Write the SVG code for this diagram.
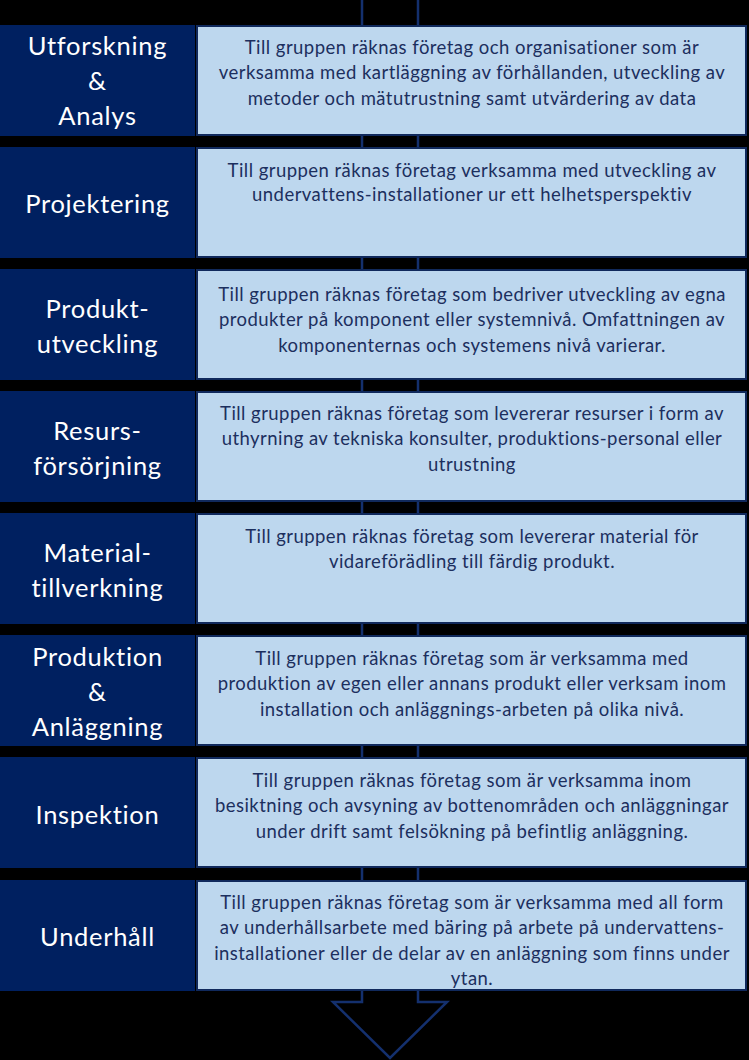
<svg xmlns="http://www.w3.org/2000/svg" width="749" height="1060" viewBox="0 0 749 1060">
<style>
.bg{fill:#000}
.lbox{fill:#002060}
.rbox{fill:#BDD7EE;stroke:#10295C;stroke-width:2}
.lt{font-family:Lato,"Open Sans","Liberation Sans",sans-serif;font-size:25.5px;letter-spacing:0.7px;fill:#fff;text-anchor:middle}
.rt{font-family:Lato,"Open Sans","Liberation Sans",sans-serif;font-size:18.5px;letter-spacing:0.45px;fill:#1C2F5E;text-anchor:middle}
.arrow{fill:#000;stroke:#14306E;stroke-width:2.5}
</style>
<rect class="bg" x="0" y="0" width="749" height="1060"/>
<g id="connectors">
<polygon class="arrow" points="362,-5 418,-5 418,1002 447,1002 390,1058 333,1002 362,1002"/>
</g>
<g id="row1">
<rect class="lbox" x="0" y="25" width="195" height="111"/>
<rect class="rbox" x="197" y="26" width="549" height="109"/>
<text class="lt" x="97.5" y="55">Utforskning</text>
<text class="lt" x="97.5" y="90">&amp;</text>
<text class="lt" x="97.5" y="125">Analys</text>
<text class="rt" x="472" y="53.5">Till gruppen räknas företag och organisationer som är</text>
<text class="rt" x="472" y="79">verksamma med kartläggning av förhållanden, utveckling av</text>
<text class="rt" x="472" y="104.5">metoder och mätutrustning samt utvärdering av data</text>
</g>
<g id="row2">
<rect class="lbox" x="0" y="147" width="195" height="111"/>
<rect class="rbox" x="197" y="148" width="549" height="109"/>
<text class="lt" x="97.5" y="213">Projektering</text>
<text class="rt" x="472" y="176.5">Till gruppen räknas företag verksamma med utveckling av</text>
<text class="rt" x="472" y="201">undervattens-installationer ur ett helhetsperspektiv</text>
</g>
<g id="row3">
<rect class="lbox" x="0" y="269" width="195" height="111"/>
<rect class="rbox" x="197" y="270" width="549" height="109"/>
<text class="lt" x="97.5" y="318">Produkt-</text>
<text class="lt" x="97.5" y="353">utveckling</text>
<text class="rt" x="472" y="300.5">Till gruppen räknas företag som bedriver utveckling av egna</text>
<text class="rt" x="472" y="326">produkter på komponent eller systemnivå. Omfattningen av</text>
<text class="rt" x="472" y="351.5">komponenternas och systemens nivå varierar.</text>
</g>
<g id="row4">
<rect class="lbox" x="0" y="391" width="195" height="111"/>
<rect class="rbox" x="197" y="392" width="549" height="109"/>
<text class="lt" x="97.5" y="440">Resurs-</text>
<text class="lt" x="97.5" y="475">försörjning</text>
<text class="rt" x="472" y="419.5">Till gruppen räknas företag som levererar resurser i form av</text>
<text class="rt" x="472" y="445">uthyrning av tekniska konsulter, produktions-personal eller</text>
<text class="rt" x="472" y="470.5">utrustning</text>
</g>
<g id="row5">
<rect class="lbox" x="0" y="513" width="195" height="111"/>
<rect class="rbox" x="197" y="514" width="549" height="109"/>
<text class="lt" x="97.5" y="562">Material-</text>
<text class="lt" x="97.5" y="597">tillverkning</text>
<text class="rt" x="472" y="542.5">Till gruppen räknas företag som levererar material för</text>
<text class="rt" x="472" y="568">vidareförädling till färdig produkt.</text>
</g>
<g id="row6">
<rect class="lbox" x="0" y="635" width="195" height="111"/>
<rect class="rbox" x="197" y="636" width="549" height="109"/>
<text class="lt" x="97.5" y="666">Produktion</text>
<text class="lt" x="97.5" y="701">&amp;</text>
<text class="lt" x="97.5" y="736">Anläggning</text>
<text class="rt" x="472" y="664.5">Till gruppen räknas företag som är verksamma med</text>
<text class="rt" x="472" y="690">produktion av egen eller annans produkt eller verksam inom</text>
<text class="rt" x="472" y="715.5">installation och anläggnings-arbeten på olika nivå.</text>
</g>
<g id="row7">
<rect class="lbox" x="0" y="757" width="195" height="111"/>
<rect class="rbox" x="197" y="758" width="549" height="109"/>
<text class="lt" x="97.5" y="824">Inspektion</text>
<text class="rt" x="472" y="786.5">Till gruppen räknas företag som är verksamma inom</text>
<text class="rt" x="472" y="812">besiktning och avsyning av bottenområden och anläggningar</text>
<text class="rt" x="472" y="837.5">under drift samt felsökning på befintlig anläggning.</text>
</g>
<g id="row8">
<rect class="lbox" x="0" y="880" width="195" height="111"/>
<rect class="rbox" x="197" y="881" width="549" height="109"/>
<text class="lt" x="97.5" y="946">Underhåll</text>
<text class="rt" x="472" y="908.5">Till gruppen räknas företag som är verksamma med all form</text>
<text class="rt" x="472" y="934">av underhållsarbete med bäring på arbete på undervattens-</text>
<text class="rt" x="472" y="959.5">installationer eller de delar av en anläggning som finns under</text>
<text class="rt" x="472" y="984.5">ytan.</text>
</g>
</svg>
